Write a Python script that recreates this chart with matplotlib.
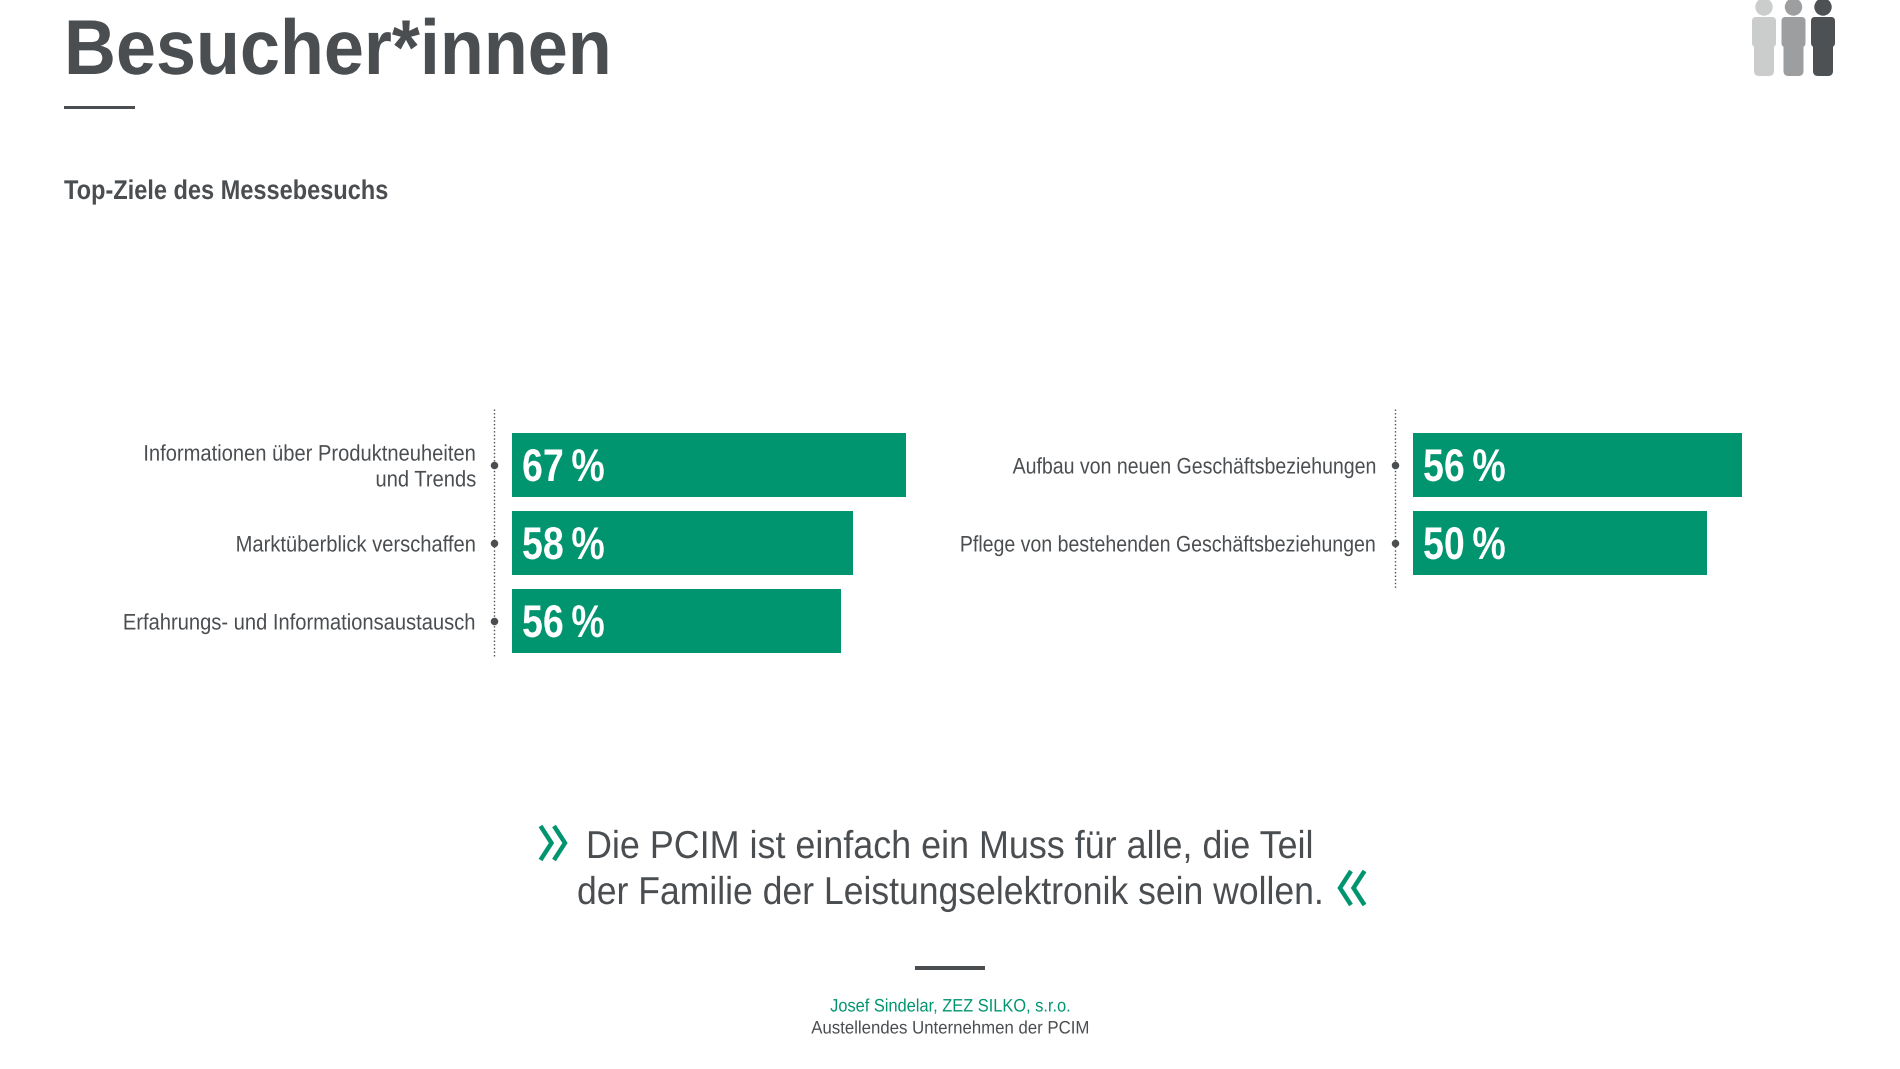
import matplotlib
matplotlib.use("Agg")
import matplotlib.pyplot as plt
from matplotlib.patches import FancyBboxPatch, Circle, Rectangle
from matplotlib.patheffects import AbstractPathEffect
from matplotlib.transforms import Affine2D, ScaledTranslation

plt.rcParams["font.family"] = ["Liberation Sans", "DejaVu Sans"]

W, H = 1900, 1069
GREEN = "#00956f"
DARK = "#4b4e51"

title = "Besucher*innen"
subtitle = "Top-Ziele des Messebesuchs"
left_labels = ["Informationen über Produktneuheiten\nund Trends", "Marktüberblick verschaffen",
               "Erfahrungs- und Informationsaustausch"]
left_values = [67, 58, 56]
right_labels = ["Aufbau von neuen Geschäftsbeziehungen", "Pflege von bestehenden Geschäftsbeziehungen"]
right_values = [56, 50]
quote_1 = "Die PCIM ist einfach ein Muss für alle, die Teil"
quote_2 = "der Familie der Leistungselektronik sein wollen."
author = "Josef Sindelar, ZEZ SILKO, s.r.o."
role = "Austellendes Unternehmen der PCIM"
icon_colors = ["#cbcdcc", "#9d9e9f", "#4d5154"]


class Squeeze(AbstractPathEffect):
    """Condense a text horizontally about its anchor (no narrow font is installed)."""

    def __init__(self, artist, sx):
        super().__init__()
        self.artist, self.sx = artist, sx

    def draw_path(self, renderer, gc, tpath, affine, rgbFace=None):
        x = self.artist.get_transform().transform(self.artist.get_position())[0]
        squeeze = Affine2D().translate(-x, 0).scale(self.sx, 1).translate(x, 0)
        renderer.draw_path(gc, tpath, affine + squeeze, rgbFace)


def narrow(text, sx):
    text.set_path_effects([Squeeze(text, sx)])
    return text


fig = plt.figure(figsize=(W / 100, H / 100), dpi=100, facecolor="white")
bg = fig.add_axes([0, 0, 1, 1])
bg.set_xlim(0, W)
bg.set_ylim(H, 0)
bg.axis("off")


def hbars(x0, y0, y1, labels, values, label_sx):
    """x0: pixel of 0 %, y0..y1: pixel extent of the axis."""
    px_per_pct = 5.875
    width = 420
    ax = fig.add_axes([x0 / W, 1 - y1 / H, width / W, (y1 - y0) / H])
    ax.set_xlim(0, width / px_per_pct)
    n = len(values)
    ax.set_ylim(n - 0.5, -0.5)
    ax.barh(range(n), values, height=64 / 78, color=GREEN, linewidth=0)
    ax.axis("off")
    ax.patch.set_alpha(0)

    def shifted(dx, dy):
        return ax.transData + ScaledTranslation(dx / 100, dy / 100, fig.dpi_scale_trans)

    for i, (lab, v) in enumerate(zip(labels, values)):
        t = ax.text(0, i, f"{v}\u2009%", transform=shifted(10, -4), color="white", fontsize=33,
                    fontweight="bold", va="center", ha="left")
        narrow(t, 0.82)
        t = ax.text(0, i, lab, transform=shifted(-35.5, -3), color=DARK, fontsize=16.2, va="center",
                    ha="right", linespacing=1.3, clip_on=False)
        narrow(t, label_sx)
        ax.plot([-18 / px_per_pct], [i], "o", ms=5.4, color=DARK, clip_on=False, mew=0)
    return ax


hbars(512, 426, 660, left_labels, left_values, 0.895)
hbars(1413, 426, 582, right_labels, right_values, 0.868)

for x, y0, y1 in [(494, 409, 657), (1395, 409, 589)]:
    bg.plot([x, x], [y0, y1], color=DARK, lw=1.0, ls=(0, (1, 1.6)))

# headings
narrow(bg.text(64, 74, title, fontsize=56, fontweight="bold", color=DARK, va="baseline"), 0.925)
bg.add_patch(Rectangle((64, 105.5), 71, 3, color=DARK, lw=0))
narrow(bg.text(64, 199, subtitle, fontsize=19.5, fontweight="bold", color=DARK, va="baseline"), 0.87)

# icon
for cx, c in zip([1764, 1793.5, 1823], icon_colors):
    bg.add_patch(Circle((cx, 7), 8.7, color=c, lw=0))
    bg.add_patch(FancyBboxPatch((cx - 10, 30), 20, 46, boxstyle="round,pad=0,rounding_size=5", color=c, lw=0))
    bg.add_patch(FancyBboxPatch((cx - 12, 17), 24, 30, boxstyle="round,pad=0,rounding_size=4", color=c, lw=0))

# quote
narrow(bg.text(586, 858, quote_1, fontsize=28, color=DARK, va="baseline"), 0.923)
narrow(bg.text(577, 904, quote_2, fontsize=28, color=DARK, va="baseline"), 0.914)
for x in (538.5, 552):
    bg.plot([x + 2, x + 13, x + 2], [826, 843, 860], color=GREEN, lw=3.2, solid_joinstyle="miter",
            solid_capstyle="butt")
for x in (1338, 1351.5):
    bg.plot([x + 13, x + 2, x + 13], [871, 888, 905], color=GREEN, lw=3.2, solid_joinstyle="miter",
            solid_capstyle="butt")

bg.add_patch(Rectangle((915, 966), 70, 3.5, color=DARK, lw=0))
narrow(bg.text(950, 1007, author, fontsize=13, color=GREEN, ha="center", va="center"), 0.908)
narrow(bg.text(950, 1029, role, fontsize=13, color=DARK, ha="center", va="center"), 0.93)

fig.savefig("out.png", dpi=100)
